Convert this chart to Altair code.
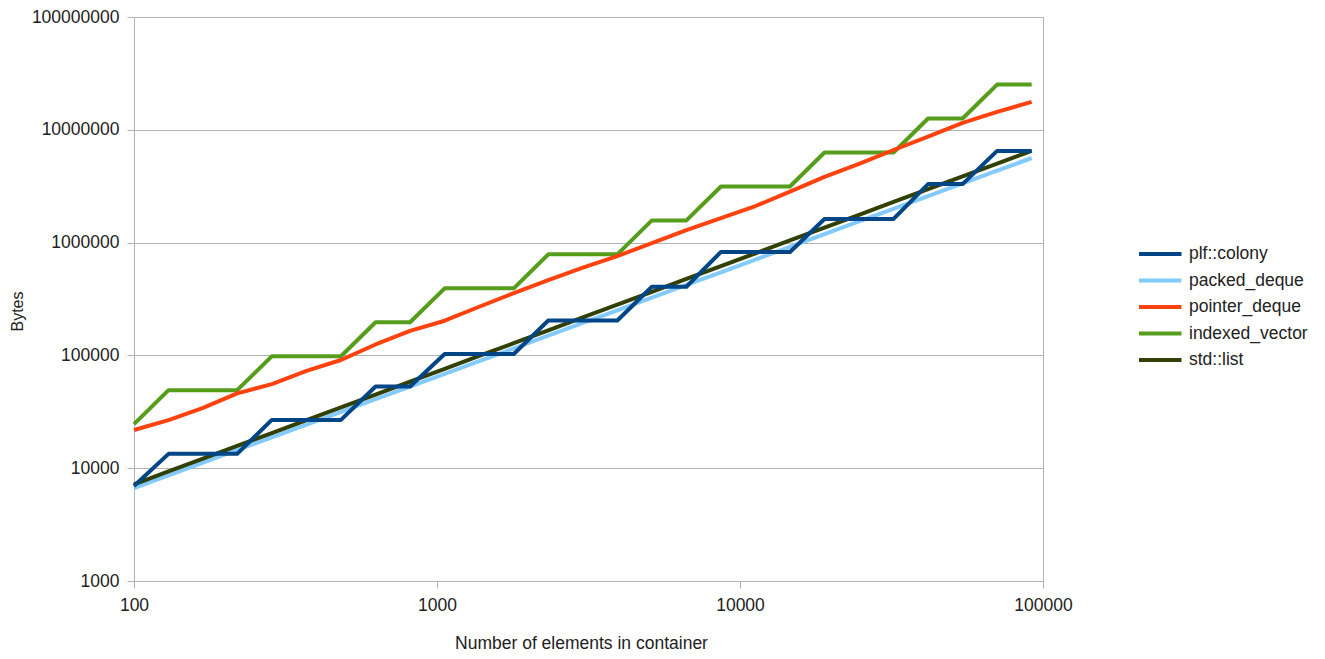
import altair as alt
import pandas as pd

# number of elements in container
n_elements = [100, 130, 169, 219, 285, 371, 482, 627, 815, 1060, 1378, 1792, 2330, 3029,
              3937, 5119, 6654, 8650, 11246, 14619, 19005, 24706, 32118, 41754, 54280,
              70564, 91733]

colony = [6950, 13400, 13400, 13400, 26800, 26800, 26800, 53000, 53000, 103000, 103000,
          103000, 204000, 204000, 204000, 406000, 406000, 826000, 826000, 826000, 1620000,
          1620000, 1620000, 3300000, 3300000, 6500000, 6500000]

packed_deque = [6670, 8650, 11200, 14500, 18800, 24400, 31600, 40900, 53000, 68700, 89000,
                115400, 149600, 193900, 251200, 325000, 421200, 545800, 707400, 916600,
                1187800, 1539200, 1994500, 2584600, 3343600, 4339700, 5623200]

pointer_deque = [21800, 26700, 34200, 46000, 55700, 72800, 91000, 125000, 165000, 203000,
                 270000, 357000, 466000, 600000, 760000, 990000, 1290000, 1650000, 2110000,
                 2830000, 3820000, 4980000, 6620000, 8690000, 11500000, 14400000, 17700000]

indexed_vector = [24576, 49152, 49152, 49152, 98304, 98304, 98304, 196608, 196608, 393216,
                  393216, 393216, 786432, 786432, 786432, 1572864, 1572864, 3145728, 3145728,
                  3145728, 6291456, 6291456, 6291456, 12582912, 12582912, 25165824, 25165824]

std_list = [7200, 9360, 12160, 15750, 20500, 26650, 34600, 45000, 58500, 76000, 98800,
            128400, 166800, 216800, 281800, 366200, 475800, 618400, 803600, 1044200,
            1356800, 1763000, 2291500, 2977700, 3869000, 5026000, 6490000]

legend_order = ["plf::colony", "packed_deque", "pointer_deque", "indexed_vector", "std::list"]
colors = ["#004586", "#83caff", "#ff420e", "#579d1c", "#314004"]

x_ticks = [100, 1000, 10000, 100000]
y_ticks = [1000, 10000, 100000, 1000000, 10000000, 100000000]

series = {
    "packed_deque": packed_deque,
    "std::list": std_list,
    "indexed_vector": indexed_vector,
    "pointer_deque": pointer_deque,
    "plf::colony": colony,
}

rows = []
for name, vals in series.items():
    for i, (n, v) in enumerate(zip(n_elements, vals)):
        rows.append({"n": n, "bytes": v, "series": name, "idx": i})
df = pd.DataFrame(rows)

FONT = "Liberation Sans"
TXT = "#222222"
GRID = "#b3b3b3"

chart = alt.Chart(df).mark_line(strokeWidth=4, strokeJoin="round").encode(
    x=alt.X("n:Q",
            scale=alt.Scale(type="log", domain=[100, 100000], nice=False),
            axis=alt.Axis(values=x_ticks, format="d", grid=False, labelFlush=False,
                          title="Number of elements in container",
                          titleX=447, titleY=67, titleAlign="center",
                          titleBaseline="alphabetic", titleFontSize=17.5,
                          tickSize=7, labelPadding=8)),
    y=alt.Y("bytes:Q",
            scale=alt.Scale(type="log", domain=[1000, 100000000], nice=False),
            axis=alt.Axis(values=y_ticks, format="d", grid=True, title="Bytes",
                          labelFlush=False,
                          titleAngle=270, titleX=-112, titleY=294, titleAlign="center",
                          titleBaseline="alphabetic", titleFontSize=16,
                          tickSize=7, labelPadding=8)),
    color=alt.Color("series:N",
                    scale=alt.Scale(domain=legend_order, range=colors),
                    legend=alt.Legend(title=None, orient="none", legendX=1015.75, legendY=226.5,
                                      symbolType="M-2.5,0H2.5", symbolSize=289,
                                      symbolStrokeWidth=4, labelOffset=18.25,
                                      rowPadding=7.5, labelFontSize=17.5, labelFont=FONT,
                                      labelColor=TXT, padding=0)),
    order=alt.Order("idx:Q"),
).properties(
    width=909,
    height=564,
    padding={"left": 126, "top": 9, "right": 270, "bottom": 70},
    autosize="none",
    background="white",
).configure_view(
    stroke=GRID, strokeWidth=1
).configure_axis(
    labelFont=FONT, labelFontSize=17.5, labelColor=TXT,
    titleFont=FONT, titleColor=TXT, titleFontWeight="normal",
    domainColor=GRID, tickColor=GRID, gridColor=GRID, gridWidth=1,
)

chart.save("out.html", embed_options={"renderer": "svg", "actions": False})
